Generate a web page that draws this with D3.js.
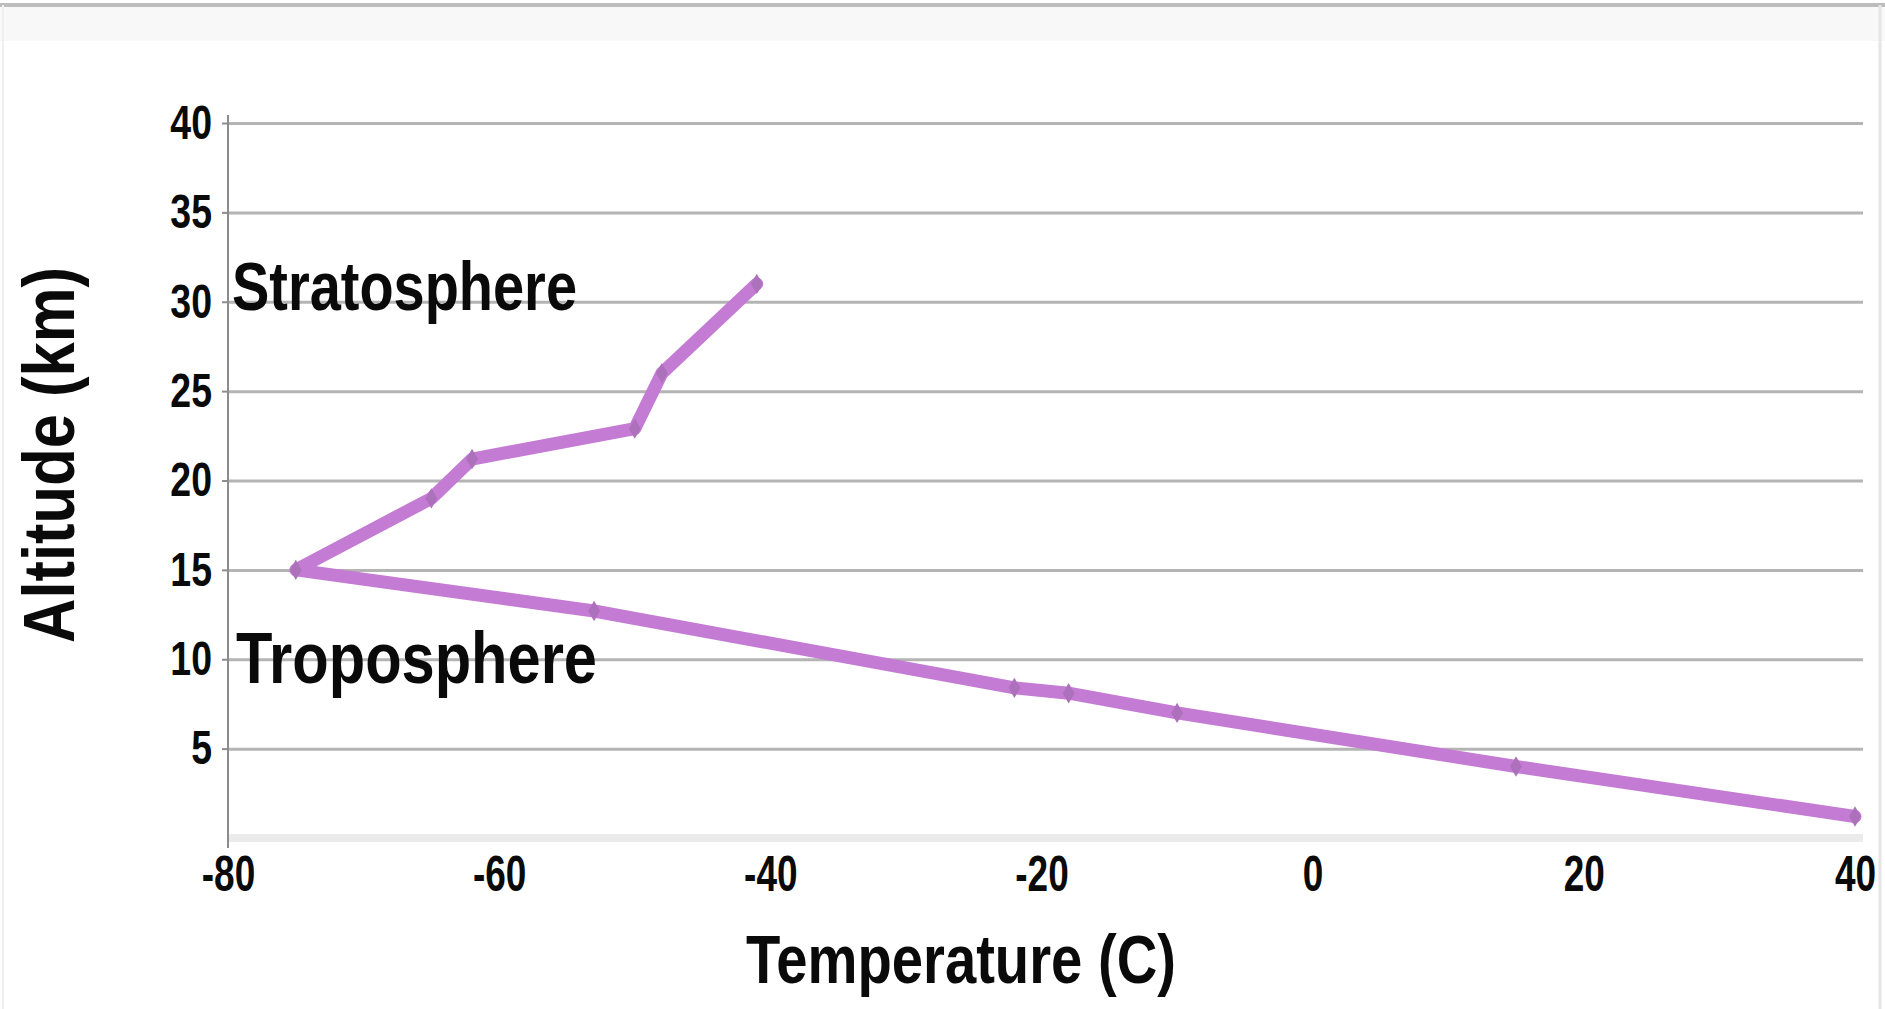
<!DOCTYPE html>
<html>
<head>
<meta charset="utf-8">
<script src="https://cdn.jsdelivr.net/npm/d3@7"></script>
<style>
  html, body { margin: 0; padding: 0; background: #fff; }
  svg { display: block; }
  text { font-family: "Liberation Sans", Arial, sans-serif; font-weight: bold; fill: #0a0a0a; }
</style>
</head>
<body>
<svg id="chart" width="1885" height="1009"></svg>
<script>
// ---- data ----
const temperature = [40, 15, -10, -18, -22, -53, -75, -65, -62, -50, -48, -41];
const altitude    = [1.2, 4, 7, 8.1, 8.4, 12.7, 15, 19, 21.2, 22.9, 26, 31];
const xTicks = [-80, -60, -40, -20, 0, 20, 40];
const yTicks = [5, 10, 15, 20, 25, 30, 35, 40];
const xTitle = "Temperature (C)";
const yTitle = "Altitude (km)";
const layerLabels = ["Stratosphere", "Troposphere"];

// ---- layout ----
const W = 1885, H = 1009;
const svg = d3.select("#chart");
const x = d3.scaleLinear().domain([-80, 40]).range([228, 1855]);
const y = d3.scaleLinear().domain([0, 40]).range([838, 123]);
const fmt = d => String(d);

// frame decorations
svg.append("rect").attr("x", 0).attr("y", 7).attr("width", W).attr("height", 34).attr("fill", "#f8f8f8");
svg.append("line").attr("x1", 0).attr("x2", W).attr("y1", 5).attr("y2", 5)
   .attr("stroke", "#bdbdbd").attr("stroke-width", 4);
svg.append("line").attr("x1", 1880).attr("x2", 1880).attr("y1", 5).attr("y2", H)
   .attr("stroke", "#e6e6e6").attr("stroke-width", 3);
svg.append("line").attr("x1", 3).attr("x2", 3).attr("y1", 5).attr("y2", H)
   .attr("stroke", "#f0f0f0").attr("stroke-width", 2);

// baseline (0) light band
svg.append("line").attr("x1", x(-80)).attr("x2", 1863).attr("y1", y(0)).attr("y2", y(0))
   .attr("stroke", "#ebebeb").attr("stroke-width", 8);

// gridlines via axis
const grid = svg.append("g").attr("transform", `translate(${x(-80)},0)`)
  .call(d3.axisRight(y).tickValues(yTicks).tickSize(1863 - x(-80)).tickFormat(""));
grid.select(".domain").remove();
grid.selectAll(".tick line").attr("stroke", "#b4b4b4").attr("stroke-width", 3);

// y axis
const yAxis = svg.append("g").attr("transform", `translate(${x(-80)},0)`)
  .call(d3.axisLeft(y).tickValues(yTicks).tickFormat(fmt).tickSize(6).tickPadding(14));
yAxis.select(".domain").attr("d", `M0,${y(40) - 8}V${y(0) + 10}`).attr("stroke", "#8c8c8c").attr("stroke-width", 2);
yAxis.selectAll(".tick line").attr("stroke", "#8c8c8c").attr("stroke-width", 2);
yAxis.selectAll(".tick text")
  .style("font-family", '"Liberation Sans", Arial, sans-serif')
  .style("font-weight", "bold").attr("fill", "#0a0a0a")
  .attr("font-size", 48)
  .attr("x", -16 / 0.78)
  .attr("transform", "scale(0.78,1)");

// x axis
const xAxis = svg.append("g").attr("transform", `translate(0,${y(0)})`)
  .call(d3.axisBottom(x).tickValues(xTicks).tickFormat(fmt).tickSize(0).tickPadding(18));
xAxis.select(".domain").remove();
xAxis.selectAll(".tick text")
  .style("font-family", '"Liberation Sans", Arial, sans-serif')
  .style("font-weight", "bold").attr("fill", "#0a0a0a")
  .attr("font-size", 50)
  .attr("transform", "scale(0.74,1)");

// line
const pts = temperature.map((t, i) => [t, altitude[i]]);
svg.append("path")
  .datum(pts)
  .attr("fill", "none")
  .attr("stroke", "#c47bd3")
  .attr("stroke-width", 13)
  .attr("stroke-linejoin", "round")
  .attr("stroke-linecap", "round")
  .attr("d", d3.line().x(d => x(d[0])).y(d => y(d[1])));

svg.append("g").selectAll("path")
  .data(pts)
  .join("path")
  .attr("transform", d => `translate(${x(d[0])},${y(d[1])})`)
  .attr("d", d3.symbol(d3.symbolDiamond, 120))
  .attr("fill", "#ad70bb");

// layer labels
svg.append("text").text(layerLabels[0])
  .attr("x", 232).attr("y", 310).attr("font-size", 68)
  .attr("textLength", 345).attr("lengthAdjust", "spacingAndGlyphs");
svg.append("text").text(layerLabels[1])
  .attr("x", 236).attr("y", 683).attr("font-size", 72)
  .attr("textLength", 361).attr("lengthAdjust", "spacingAndGlyphs");

// axis titles
svg.append("text").text(xTitle)
  .attr("x", 746).attr("y", 983).attr("font-size", 68)
  .attr("textLength", 430).attr("lengthAdjust", "spacingAndGlyphs");
svg.append("text").text(yTitle)
  .attr("transform", "translate(74,643) rotate(-90)")
  .attr("font-size", 72)
  .attr("textLength", 376).attr("lengthAdjust", "spacingAndGlyphs");
</script>
</body>
</html>
